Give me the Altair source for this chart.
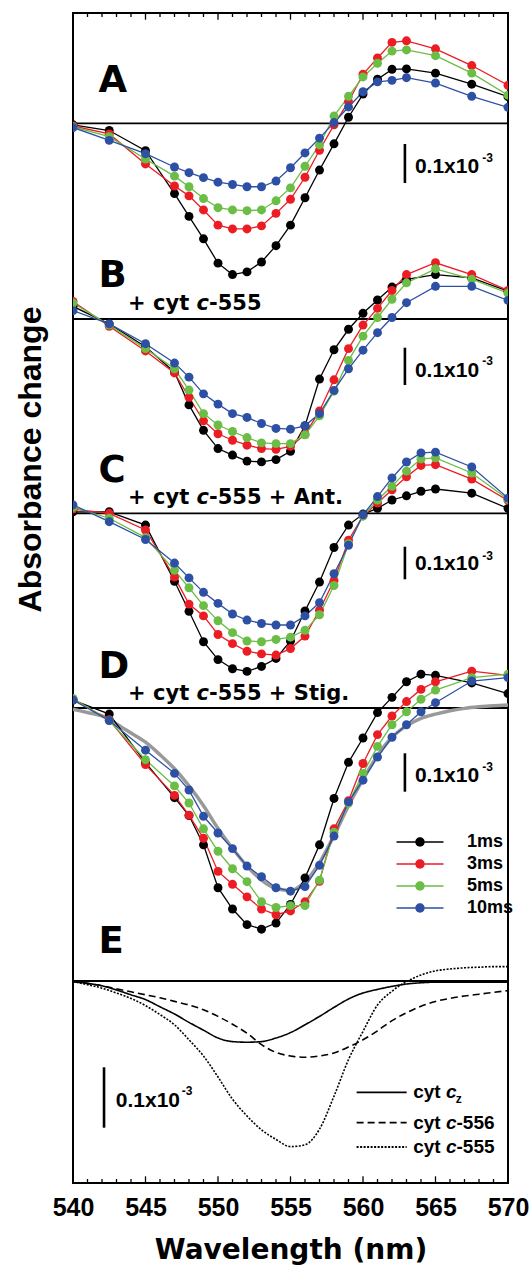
import altair as alt
import pandas as pd

# ---------------- data (absorbance change in units of 1e-4, i.e. one scale bar) ----------------
WL_AB = [540, 542.5, 545, 547, 548, 549, 550, 551, 552, 553, 554, 555, 556, 557, 558, 559, 560,
         561, 562, 563, 565, 567.5, 570]
WL_CD = [540, 542.5, 545, 547, 548, 549, 550, 551, 552, 553, 554, 555, 556, 557, 558, 559, 560,
         561, 562, 563, 564, 565, 567.5, 570]
WL_FINE = list(range(540, 571))

SERIES = ["1ms", "3ms", "5ms", "10ms"]
COLORS = ["#000000", "#EC1C24", "#6ABD45", "#2E50A4"]

A_1ms = [-0.04, -0.19, -0.72, -1.85, -2.45, -3.04, -3.68, -3.98, -3.91, -3.65, -3.22, -2.68, -1.96, -1.23, -0.54, 0.16, 0.77, 1.16, 1.42, 1.43, 1.32, 1.03, 0.70]
A_3ms = [-0.07, -0.28, -1.07, -1.65, -1.91, -2.28, -2.68, -2.78, -2.78, -2.70, -2.37, -2.00, -1.42, -0.71, -0.04, 0.57, 1.29, 1.72, 2.13, 2.17, 1.96, 1.52, 1.00]
A_5ms = [-0.09, -0.35, -0.94, -1.39, -1.67, -1.98, -2.22, -2.28, -2.30, -2.28, -2.04, -1.70, -1.13, -0.57, 0.19, 0.71, 1.22, 1.58, 1.90, 1.93, 1.78, 1.32, 0.74]
A_10ms = [-0.11, -0.45, -0.80, -1.15, -1.30, -1.43, -1.55, -1.61, -1.67, -1.67, -1.52, -1.17, -0.78, -0.39, 0.02, 0.43, 0.83, 1.09, 1.13, 1.20, 1.06, 0.71, 0.42]

B_1ms = [0.33, -0.13, -0.73, -1.40, -2.26, -2.93, -3.41, -3.58, -3.74, -3.76, -3.70, -3.48, -2.81, -1.58, -0.81, -0.27, 0.15, 0.50, 0.84, 1.04, 1.17, 1.08, 0.73]
B_3ms = [0.46, -0.19, -0.84, -1.42, -2.06, -2.68, -3.02, -3.19, -3.32, -3.41, -3.43, -3.35, -3.04, -2.42, -1.60, -0.78, -0.16, 0.28, 0.75, 1.17, 1.48, 1.17, 0.75]
B_5ms = [0.42, -0.16, -0.78, -1.31, -1.87, -2.49, -2.79, -2.96, -3.12, -3.26, -3.28, -3.28, -3.05, -2.55, -1.90, -1.09, -0.45, 0.04, 0.52, 0.95, 1.32, 1.05, 0.68]
B_10ms = [0.22, -0.13, -0.65, -1.16, -1.53, -1.97, -2.24, -2.49, -2.59, -2.75, -2.88, -2.90, -2.81, -2.49, -1.88, -1.31, -0.82, -0.36, 0.04, 0.43, 0.86, 0.86, 0.49]

C_1ms = [0.04, 0.04, -0.31, -1.79, -2.58, -3.38, -3.85, -4.09, -4.16, -4.03, -3.82, -3.36, -2.57, -1.81, -0.90, -0.31, -0.02, 0.13, 0.35, 0.46, 0.58, 0.64, 0.53, 0.13]
C_3ms = [0.11, 0.00, -0.44, -1.68, -2.39, -2.70, -3.19, -3.43, -3.63, -3.70, -3.73, -3.56, -3.23, -2.55, -1.77, -0.71, -0.07, 0.27, 0.62, 0.96, 1.26, 1.28, 0.90, 0.34]
C_5ms = [0.16, -0.13, -0.64, -1.50, -1.96, -2.43, -2.83, -3.14, -3.36, -3.38, -3.32, -3.26, -3.08, -2.67, -1.90, -0.80, -0.07, 0.35, 0.71, 1.11, 1.43, 1.46, 1.06, 0.37]
C_10ms = [0.22, -0.22, -0.69, -1.31, -1.70, -2.08, -2.37, -2.65, -2.81, -2.90, -2.94, -2.94, -2.70, -2.35, -1.59, -0.84, -0.04, 0.44, 0.93, 1.35, 1.59, 1.61, 1.22, 0.40]

D_1ms = [0.21, -0.16, -1.44, -2.36, -2.83, -3.60, -4.73, -5.29, -5.70, -5.82, -5.66, -5.17, -4.47, -3.60, -2.38, -1.43, -0.79, -0.12, 0.28, 0.69, 0.89, 0.86, 0.66, 0.38]
D_3ms = [0.23, -0.31, -1.49, -2.30, -2.82, -3.43, -4.30, -4.64, -4.97, -5.29, -5.44, -5.34, -5.10, -4.56, -3.18, -2.44, -1.46, -0.70, -0.21, 0.17, 0.49, 0.69, 0.97, 0.86]
D_5ms = [0.25, -0.33, -1.36, -2.05, -2.50, -3.18, -3.77, -4.23, -4.57, -5.10, -5.25, -5.20, -5.20, -4.53, -3.27, -2.50, -1.72, -1.01, -0.44, -0.10, 0.23, 0.47, 0.80, 0.89]
D_10ms = [0.21, -0.33, -1.11, -1.72, -2.16, -2.85, -3.29, -3.70, -4.16, -4.44, -4.73, -4.82, -4.70, -4.14, -3.37, -2.47, -1.90, -1.29, -0.77, -0.44, -0.10, 0.14, 0.71, 0.80]
D_sim = [-0.03, -0.12, -0.21, -0.42, -0.66, -0.90, -1.23, -1.60, -2.05, -2.57, -3.17, -3.69, -4.16, -4.53, -4.75, -4.80, -4.57, -4.07, -3.36, -2.57, -1.88, -1.25, -0.77, -0.47, -0.27, -0.16, -0.07, -0.01, 0.03, 0.06, 0.08]

E_LABELS = ["cyt cz", "cyt c-556", "cyt c-555"]
E_cz = [-0.01, -0.04, -0.08, -0.15, -0.23, -0.31, -0.43, -0.55, -0.69, -0.82, -0.95, -1.01, -1.02, -1.01, -0.95, -0.86, -0.73, -0.59, -0.44, -0.30, -0.20, -0.14, -0.09, -0.05, -0.03, -0.02, -0.02, -0.02, -0.02, -0.02, -0.02]
E_c556 = [-0.01, -0.04, -0.08, -0.13, -0.18, -0.23, -0.28, -0.34, -0.40, -0.48, -0.59, -0.72, -0.87, -1.06, -1.19, -1.25, -1.27, -1.25, -1.20, -1.10, -0.98, -0.83, -0.66, -0.53, -0.42, -0.34, -0.29, -0.25, -0.22, -0.19, -0.16]
E_c555 = [-0.01, -0.06, -0.12, -0.20, -0.29, -0.41, -0.56, -0.73, -0.98, -1.25, -1.60, -1.97, -2.25, -2.48, -2.64, -2.76, -2.73, -2.47, -1.92, -1.31, -0.84, -0.40, -0.17, -0.01, 0.10, 0.17, 0.20, 0.22, 0.23, 0.24, 0.24]

PANEL_LETTERS = ["A", "B", "C", "D", "E"]
SUB_TAILS = ["-555", "-555 + Ant.", "-555 + Stig."]

# ---------------- layout (display units: 1 unit = 1 px of plot height) ----------------
W, H = 435, 1170
UNIT = 38.0      # px per 1e-4 in panels A-D
UNIT_E = 60.0    # px per 1e-4 in panel E
BASE = {"A": 1059.7, "B": 864.0, "C": 669.7, "D": 475.0, "E": 202.0}

PANEL_DATA = {
    "A": (WL_AB, [A_1ms, A_3ms, A_5ms, A_10ms]),
    "B": (WL_AB, [B_1ms, B_3ms, B_5ms, B_10ms]),
    "C": (WL_CD, [C_1ms, C_3ms, C_5ms, C_10ms]),
    "D": (WL_CD, [D_1ms, D_3ms, D_5ms, D_10ms]),
}

rows = []
for p, (wls, svals) in PANEL_DATA.items():
    for s, vals in zip(SERIES, svals):
        for w, v in zip(wls, vals):
            rows.append({"panel": p, "series": s, "wl": w, "y": BASE[p] + v * UNIT})
df = pd.DataFrame(rows)

df_sim = pd.DataFrame({"wl": WL_FINE, "y": [BASE["D"] + v * UNIT for v in D_sim]})

erows = []
for lab, vals in zip(E_LABELS, [E_cz, E_c556, E_c555]):
    for w, v in zip(WL_FINE, vals):
        erows.append({"ref": lab, "wl": w, "y": BASE["E"] + v * UNIT_E})
df_e = pd.DataFrame(erows)

df_base = pd.DataFrame({"panel": PANEL_LETTERS, "wl": 540, "wl2": 570,
                        "y": [BASE[p] for p in PANEL_LETTERS]})

# x-axis inner ticks (every nm, long every 5 nm), on bottom and top edges
trows = []
for w in range(540, 571):
    L = 6.7 if w % 5 == 0 else 4.0
    trows.append({"wl": w, "y": 0, "y2": L})
    trows.append({"wl": w, "y": H, "y2": H - L})
df_ticks = pd.DataFrame(trows)

# ---------------- scales / axes ----------------
XS = alt.Scale(domain=[540, 570], nice=False, zero=False)
YS = alt.Scale(domain=[0, H], nice=False, zero=False)
X_AXIS = alt.Axis(values=list(range(540, 571, 5)), format="d", ticks=False, domain=False, grid=False,
                  labelFont="Liberation Sans", labelFontWeight="bold", labelFontSize=25,
                  labelColor="black", labelPadding=12, labelFlush=False, labelOverlap=False,
                  title="Wavelength (nm)", titleFont="DejaVu Sans", titleFontWeight="bold",
                  titleFontSize=28, titleColor="black", titleX=W / 2, titleY=75,
                  titleAlign="center", titleBaseline="alphabetic")
Y_AXIS = alt.Axis(labels=False, ticks=False, domain=False, grid=False,
                  title="Absorbance change", titleFont="Liberation Sans", titleFontWeight="bold",
                  titleFontSize=32, titleColor="black", titleAngle=270, titleX=-33, titleY=446,
                  titleAlign="center", titleBaseline="alphabetic")


def X(f="wl"):
    return alt.X(f"{f}:Q", scale=XS, axis=X_AXIS)


def Y(f="y"):
    return alt.Y(f"{f}:Q", scale=YS, axis=Y_AXIS)


COLOR_SCALE = alt.Scale(domain=SERIES, range=COLORS)
# legend glyph: thin bar (line) with a dot in the middle, drawn as filled shapes.
# symbolSize 100 -> 1 path unit = 5 px; the glyph is 47 px wide with a 4.7 px radius dot.
LEG_PATH = ("M-4.7,-0.14L-0.94,-0.14L-0.94,0.14L-4.7,0.14Z"
            "M0.94,-0.14L4.7,-0.14L4.7,0.14L0.94,0.14Z"
            "M0.94,0A0.94,0.94,0,1,1,-0.94,0A0.94,0.94,0,1,1,0.94,0Z")
LEGEND = alt.Legend(title=None, orient="none", legendX=338, legendY=820,
                    symbolType=LEG_PATH, symbolSize=100, symbolStrokeWidth=0,
                    symbolOpacity=1, labelFont="Liberation Sans",
                    labelFontWeight="bold", labelFontSize=18, labelColor="black",
                    labelOffset=38, rowPadding=4, padding=0)
COLOR = alt.Color("series:N", scale=COLOR_SCALE, sort=SERIES, legend=LEGEND)

baselines = alt.Chart(df_base).mark_rule(color="black", strokeWidth=1.8).encode(
    x=X(), x2="wl2:Q", y=Y())

sim = alt.Chart(df_sim).mark_line(color="#999999", strokeWidth=3.5, interpolate="monotone",
                                  clip=True).encode(x=X(), y=Y())

lines = alt.Chart(df).mark_line(strokeWidth=1.3, clip=True).encode(
    x=X(), y=Y(), detail="panel:N", color=COLOR)

points = alt.Chart(df).mark_circle(size=80, opacity=1, clip=True).encode(
    x=X(), y=Y(), color=COLOR)

DASH_SCALE = alt.Scale(domain=E_LABELS, range=[[1, 0], [7, 4], [2, 1.5]])
elines = alt.Chart(df_e).mark_line(color="black", strokeWidth=1.6, interpolate="monotone",
                                   clip=True).encode(
    x=X(), y=Y(), strokeDash=alt.StrokeDash("ref:N", scale=DASH_SCALE, legend=None))

ticks = alt.Chart(df_ticks).mark_rule(color="black", strokeWidth=1.3).encode(
    x=X(), y=Y(), y2="y2:Q")

# ---------------- annotations ----------------
df_letters = pd.DataFrame({"t": PANEL_LETTERS, "wl": 541.75,
                           "y": [1091.3, 896.3, 701.3, 504.7, 229.7]})
letters = alt.Chart(df_letters).mark_text(font="DejaVu Sans", fontWeight="bold", fontSize=37,
                                          align="left", baseline="alphabetic", color="black").encode(
    x=X(), y=Y(), text="t:N")

SUB_Y = [873.0, 679.5, 483.0]
df_sub1 = pd.DataFrame({"t": ["+ cyt"] * 3, "wl": 543.80, "y": SUB_Y})
df_sub2 = pd.DataFrame({"t": ["c"] * 3, "wl": 548.52, "y": SUB_Y})
df_sub3 = pd.DataFrame({"t": SUB_TAILS, "wl": 549.38, "y": SUB_Y})
sub_kw = dict(font="DejaVu Sans", fontWeight="bold", fontSize=21, align="left",
              baseline="alphabetic", color="black")
sub1 = alt.Chart(df_sub1).mark_text(**sub_kw).encode(x=X(), y=Y(), text="t:N")
sub2 = alt.Chart(df_sub2).mark_text(fontStyle="italic", **sub_kw).encode(x=X(), y=Y(), text="t:N")
sub3 = alt.Chart(df_sub3).mark_text(**sub_kw).encode(x=X(), y=Y(), text="t:N")

# scale bars (0.1x10^-3)
df_bar = pd.DataFrame({"wl": [562.89] * 4 + [542.14],
                       "y": [1000.0, 798.0, 603.7, 391.3, 55.3],
                       "y2": [1039.0, 835.3, 636.3, 429.7, 115.7]})
bars = alt.Chart(df_bar).mark_rule(color="black", strokeWidth=2.6).encode(x=X(), y=Y(), y2="y2:Q")
df_bar_t = pd.DataFrame({"t": ["0.1x10"] * 5, "wl": [563.58] * 4 + [542.95],
                         "y": [1009.7, 806.3, 613.0, 401.3, 76.3]})
df_bar_s = pd.DataFrame({"t": ["-3"] * 5, "wl": [568.22] * 4 + [547.50],
                         "y": [1020.7, 818.0, 623.0, 412.3, 88.0]})
bar_t = alt.Chart(df_bar_t).mark_text(font="Liberation Sans", fontWeight="bold", fontSize=21,
                                      align="left", baseline="alphabetic", color="black").encode(
    x=X(), y=Y(), text="t:N")
bar_s = alt.Chart(df_bar_s).mark_text(font="Liberation Sans", fontWeight="bold", fontSize=12,
                                      align="left", baseline="alphabetic", color="black").encode(
    x=X(), y=Y(), text="t:N")

# legend of panel E
E_LEG_Y = [90.7, 60.3, 36.0]
df_eleg = pd.DataFrame({"ref": E_LABELS, "wl": 559.56, "wl2": 563.01, "y": E_LEG_Y})
eleg = alt.Chart(df_eleg).mark_rule(color="black", strokeWidth=1.8).encode(
    x=X(), x2="wl2:Q", y=Y(),
    strokeDash=alt.StrokeDash("ref:N", scale=DASH_SCALE, legend=None))
leg_kw = dict(font="Liberation Sans", fontWeight="bold", fontSize=19, align="left",
              baseline="middle", color="black")
df_el1 = pd.DataFrame({"t": ["cyt"] * 3, "wl": 563.46, "y": E_LEG_Y})
df_el2 = pd.DataFrame({"t": ["c"] * 3, "wl": 565.72, "y": E_LEG_Y})
df_el3 = pd.DataFrame({"t": ["-556", "-555"], "wl": 566.45, "y": E_LEG_Y[1:]})
df_el4 = pd.DataFrame({"t": ["z"], "wl": 566.40, "y": [80.0]})
el1 = alt.Chart(df_el1).mark_text(**leg_kw).encode(x=X(), y=Y(), text="t:N")
el2 = alt.Chart(df_el2).mark_text(fontStyle="italic", **leg_kw).encode(x=X(), y=Y(), text="t:N")
el3 = alt.Chart(df_el3).mark_text(**leg_kw).encode(x=X(), y=Y(), text="t:N")
el4 = alt.Chart(df_el4).mark_text(font="Liberation Sans", fontWeight="bold", fontSize=12,
                                  align="left", baseline="alphabetic", color="black").encode(
    x=X(), y=Y(), text="t:N")

chart = alt.layer(
    baselines, sim, lines, points, elines, ticks, letters, sub1, sub2, sub3,
    bars, bar_t, bar_s, eleg, el1, el2, el3, el4
).properties(
    width=W, height=H,
    autosize=alt.AutoSizeParams(type="none"),
    padding={"left": 73, "top": 13, "right": 24, "bottom": 82},
).configure(
    background="white",
    view=alt.ViewConfig(stroke="black", strokeWidth=2),
)

chart.save("out.html", embed_options={"renderer": "svg", "actions": False})
